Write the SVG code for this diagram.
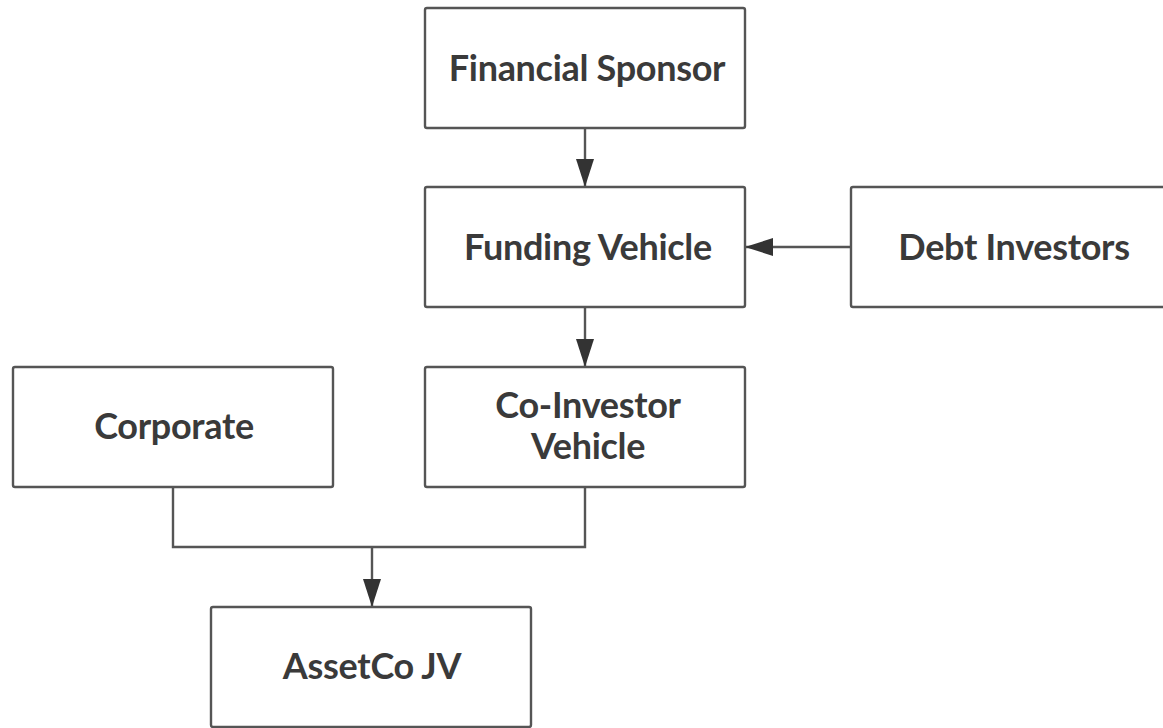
<svg xmlns="http://www.w3.org/2000/svg" width="1163" height="728" viewBox="0 0 1163 728">
  <defs>
    <marker id="arrow" markerWidth="28" markerHeight="20" refX="27" refY="10" orient="auto" markerUnits="userSpaceOnUse" viewBox="0 0 28 20">
      <path d="M0,1 L28,10 L0,19 Z" fill="#333"/>
    </marker>
    <style>
      .box { fill: #fff; stroke: #555; stroke-width: 2.4; }
      .lbl { font-family: Lato, "Liberation Sans", sans-serif; font-weight: bold; font-size: 36px; fill: #3a3a3a; text-anchor: middle; letter-spacing: -0.3px; }
      .edge { fill: none; stroke: #555; stroke-width: 2.4; }
    </style>
  </defs>
  <rect width="1163" height="728" fill="#fff"/>

  <g id="connectors">
    <path class="edge" d="M585,128 V186" marker-end="url(#arrow)"/>
    <path class="edge" d="M851,247 H746" marker-end="url(#arrow)"/>
    <path class="edge" d="M585,307 V366" marker-end="url(#arrow)"/>
    <path class="edge" d="M173,487 V547 H585 V487"/>
    <path class="edge" d="M372,547 V606" marker-end="url(#arrow)"/>
  </g>

  <g id="financial-sponsor">
    <rect class="box" x="425" y="8" width="320" height="120" rx="2"/>
    <text class="lbl" x="587" y="81">Financial Sponsor</text>
  </g>
  <g id="funding-vehicle">
    <rect class="box" x="425" y="187" width="320" height="120" rx="2"/>
    <text class="lbl" x="588" y="260">Funding Vehicle</text>
  </g>
  <g id="debt-investors">
    <rect class="box" x="851" y="187" width="330" height="120" rx="2"/>
    <text class="lbl" x="1014" y="260">Debt Investors</text>
  </g>
  <g id="corporate">
    <rect class="box" x="13" y="367" width="320" height="120" rx="2"/>
    <text class="lbl" x="174" y="439">Corporate</text>
  </g>
  <g id="co-investor-vehicle">
    <rect class="box" x="425" y="367" width="320" height="120" rx="2"/>
    <text class="lbl" x="588" y="418">Co-Investor</text>
    <text class="lbl" x="588" y="459">Vehicle</text>
  </g>
  <g id="assetco-jv">
    <rect class="box" x="211" y="607" width="320" height="120" rx="2"/>
    <text class="lbl" x="372" y="679">AssetCo JV</text>
  </g>
</svg>
